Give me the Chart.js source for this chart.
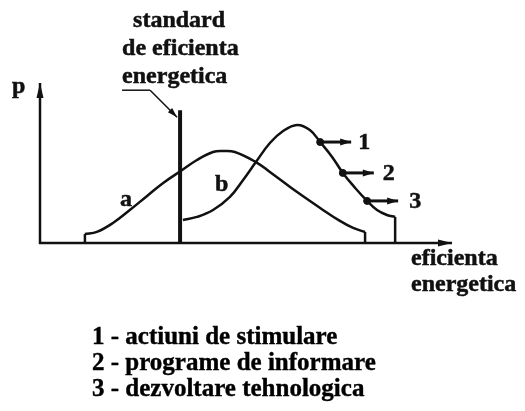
<!DOCTYPE html>
<html>
<head>
<meta charset="utf-8">
<script src="https://cdn.jsdelivr.net/npm/chart.js@4/dist/chart.umd.min.js"></script>
<style>
  body { margin: 0; background: #fff; }
  .wrap { position: relative; width: 525px; height: 411px; }
  #chart { position: absolute; left: 0; top: 0; }
  .legend {
    position: absolute; left: 92px; top: 323px; margin: 0; padding: 0;
    list-style: none; font: bold 25px "Liberation Serif", "Times New Roman", serif;
    line-height: 26px; color: #000; white-space: nowrap;
    -webkit-text-stroke: 0.4px #000;
  }
</style>
</head>
<body>
<div class="wrap">
  <canvas id="chart" width="525" height="411"></canvas>
  <ul class="legend" id="legend"></ul>
</div>
<script>
// curve a: distributia inainte de standard (x = eficienta, y = p)
const curveAX = [10.9, 13.8, 17.7, 21.8, 26, 29.9, 34.5, 38.1, 42, 44.4, 47.3, 52.4, 55.8, 60.7, 63.1, 68, 72.8, 76, 78.9];
const curveAY = [5.6, 6.9, 12.5, 20.6, 29.4, 37.5, 45.6, 51.9, 56.9, 57.5, 56.9, 50.6, 44.4, 35, 30.6, 21.9, 13.8, 9.4, 6.9];

// curve b: distributia dupa introducerea standardului
const curveBX = [34.7, 38.1, 42, 46.1, 49.3, 52.4, 55.8, 59, 62.4, 65.5, 68, 70.9, 73.5, 76.5, 79.4, 81.8, 84.2, 86.2];
const curveBY = [14.4, 16.3, 20.6, 28.8, 39.4, 50.6, 62.5, 70, 73.8, 70.6, 63.1, 53.8, 43.8, 34.4, 26.3, 20.6, 17.5, 16.3];

// pragul impus de standard
const standardX = 34;
const standardTop = 83;

// punctele de actiune de pe curba b
const markerX = [68, 73.5, 79.4];
const markerY = [63.1, 43.8, 26.3];
const markerLabels = ['1', '2', '3'];

const curveLabels = ['a', 'b'];
const headingLines = ['standard', 'de eficienta', 'energetica'];
const xTitleLines = ['eficienta', 'energetica'];
const yTitle = 'p';
const legendItems = [
  '1 - actiuni de stimulare',
  '2 - programe de informare',
  '3 - dezvoltare tehnologica',
];

const INK = '#111';
const FONT = 'bold 24px "Liberation Serif", "Times New Roman", serif';

const toPoints = (xs, ys) => xs.map((x, i) => ({ x, y: ys[i] }));
const dropAt = (x, y) => [{ x, y: 0 }, { x, y }];

const curveStyle = {
  showLine: true,
  borderColor: INK,
  borderWidth: 2.5,
  pointRadius: 0,
  fill: false,
  tension: 0.4,
};
const edgeStyle = {
  showLine: true,
  borderColor: INK,
  borderWidth: 2.5,
  pointRadius: 0,
  tension: 0,
};

function arrowHead(ctx, fx, fy, tx, ty, len, half) {
  const ang = Math.atan2(ty - fy, tx - fx);
  ctx.beginPath();
  ctx.moveTo(tx, ty);
  ctx.lineTo(tx - len * Math.cos(ang) + half * Math.sin(ang), ty - len * Math.sin(ang) - half * Math.cos(ang));
  ctx.lineTo(tx - len * Math.cos(ang) - half * Math.sin(ang), ty - len * Math.sin(ang) + half * Math.cos(ang));
  ctx.closePath();
  ctx.fill();
}

function arrow(ctx, fx, fy, tx, ty, len, half, width) {
  ctx.lineWidth = width;
  ctx.beginPath();
  ctx.moveTo(fx, fy);
  ctx.lineTo(tx, ty);
  ctx.stroke();
  arrowHead(ctx, fx, fy, tx, ty, len, half);
}

// bold serif text with a thin outline so it reads as heavy as print
function label(ctx, text, px, py) {
  ctx.lineWidth = 0.5;
  ctx.fillText(text, px, py);
  ctx.strokeText(text, px, py);
}

// axes, annotations and labels drawn on top of the scales
const diagramPlugin = {
  id: 'diagram',
  beforeDatasetsDraw(chart) {
    const { ctx, chartArea: area, scales: { x, y } } = chart;
    const ox = x.getPixelForValue(0);
    const oy = y.getPixelForValue(0);
    ctx.save();
    ctx.strokeStyle = INK;
    ctx.fillStyle = INK;
    arrow(ctx, ox - 1, oy, area.right, oy, 14, 3.5, 2.5);
    arrow(ctx, ox, oy + 1, ox, area.top, 15, 3.5, 2.5);
    ctx.restore();
  },
  afterDatasetsDraw(chart) {
    const { ctx, scales: { x, y } } = chart;
    const ox = x.getPixelForValue(0);
    const oy = y.getPixelForValue(0);
    ctx.save();
    ctx.strokeStyle = INK;
    ctx.fillStyle = INK;
    ctx.font = FONT;
    ctx.textAlign = 'left';
    ctx.textBaseline = 'alphabetic';

    // leader from the heading to the standard line
    const sx = x.getPixelForValue(standardX);
    const sy = y.getPixelForValue(standardTop);
    ctx.lineWidth = 1.5;
    ctx.beginPath();
    ctx.moveTo(sx - 58, sy - 20);
    ctx.lineTo(sx - 30, sy - 20);
    ctx.stroke();
    arrow(ctx, sx - 30, sy - 20, sx - 3, sy + 7, 10, 3, 1.5);

    label(ctx, headingLines[0], sx - 47, sy - 83);
    label(ctx, headingLines[1], sx - 58, sy - 55);
    label(ctx, headingLines[2], sx - 58, sy - 27);

    // y and x axis titles
    label(ctx, yTitle, ox - 28, y.getPixelForValue(100) + 10);
    label(ctx, xTitleLines[0], x.getPixelForValue(100) - 41, oy + 22);
    label(ctx, xTitleLines[1], x.getPixelForValue(100) - 41, oy + 48);

    // curve names
    label(ctx, curveLabels[0], x.getPixelForValue(19.4), y.getPixelForValue(23.1));
    label(ctx, curveLabels[1], x.getPixelForValue(42.5), y.getPixelForValue(32.5));

    // action arrows leaving curve b
    markerX.forEach((mx, i) => {
      const px = x.getPixelForValue(mx);
      const py = y.getPixelForValue(markerY[i]);
      arrow(ctx, px + 3, py, px + 31, py, 11, 3.5, 3);
      label(ctx, markerLabels[i], px + 38 + i * 2, py + 7);
    });
    ctx.restore();
  },
};

new Chart(document.getElementById('chart').getContext('2d'), {
  type: 'scatter',
  data: {
    datasets: [
      { label: 'a', data: toPoints(curveAX, curveAY), ...curveStyle },
      { label: 'b', data: toPoints(curveBX, curveBY), ...curveStyle },
      { label: 'a start', data: dropAt(curveAX[0], curveAY[0]), ...edgeStyle },
      { label: 'a end', data: dropAt(curveAX[curveAX.length - 1], curveAY[curveAY.length - 1]), ...edgeStyle },
      { label: 'b end', data: dropAt(curveBX[curveBX.length - 1], curveBY[curveBY.length - 1]), ...edgeStyle },
      { label: 'standard', data: dropAt(standardX, standardTop), ...edgeStyle, borderWidth: 4 },
      {
        label: 'actiuni',
        data: toPoints(markerX, markerY),
        showLine: false,
        pointRadius: 3.5,
        pointBackgroundColor: INK,
        pointBorderColor: INK,
      },
    ],
  },
  options: {
    responsive: false,
    animation: false,
    layout: { padding: { left: 40, top: 83, right: 73, bottom: 168 } },
    scales: {
      x: { type: 'linear', min: 0, max: 100, display: false },
      y: { type: 'linear', min: 0, max: 100, display: false },
    },
    plugins: {
      legend: { display: false },
      tooltip: { enabled: false },
    },
  },
  plugins: [diagramPlugin],
});

const legendEl = document.getElementById('legend');
legendItems.forEach((text) => {
  const li = document.createElement('li');
  li.textContent = text;
  legendEl.appendChild(li);
});
</script>
</body>
</html>
